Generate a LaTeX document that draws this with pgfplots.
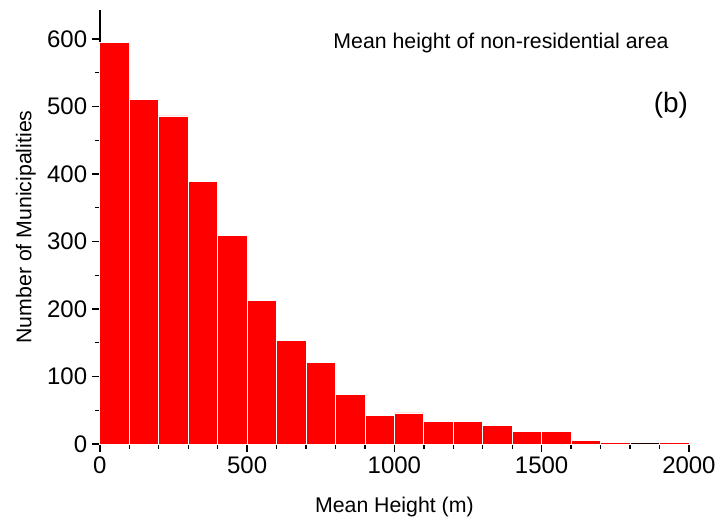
\documentclass[border=0pt]{standalone}
\usepackage{fontspec}
\setmainfont{Liberation Sans}
\usepackage{pgfplots}
\pgfplotsset{compat=1.18}
\begin{document}
\begin{tikzpicture}
\begin{axis}[
  scale only axis,
  width=442.5pt, height=326pt,
  xmin=0, xmax=2000, ymin=0, ymax=643,
  axis x line=bottom, axis y line=left,
  axis line style={-, line width=1.3pt},
  tick align=outside,
  xtick={0,500,1000,1500,2000},
  minor xtick={100,200,...,1900},
  ytick={0,100,...,600},
  minor ytick={50,150,...,550},
  major tick length=6pt, minor tick length=3.5pt,
  every tick/.style={black, line width=1pt},
  tick label style={font=\fontsize{18}{20}\selectfont},
  /pgf/number format/assume math mode=true,
  /pgf/number format/set thousands separator={},
  label style={font=\fontsize{16}{18}\selectfont},
  xlabel={Mean Height (m)},
  ylabel={Number of Municipalities},
  xlabel style={at={(axis description cs:0.5,-0.146)}, anchor=center},
  ylabel style={at={(axis description cs:-0.1254,0.5)}, anchor=center},
  clip=false,
]
\addplot[ybar interval, fill={rgb,255:red,255;green,0;blue,0}, draw=white, line width=0.6pt] coordinates {
(0,595) (100,511) (200,486) (300,389) (400,309) (500,212) (600,153) (700,121)
(800,73) (900,42) (1000,46) (1100,33) (1200,34) (1300,27) (1400,18) (1500,19)
(1600,5) (1700,2) (1800,0) (1900,2) (2000,2)
};
\node[font=\fontsize{16}{18}\selectfont] at (axis cs:1362,594) {Mean height of non-residential area};
\node[font=\fontsize{21}{24}\selectfont] at (axis cs:1939,502) {(b)};
\end{axis}
\path (current axis.origin) ++(-75pt,-61pt) rectangle ++(540pt,394.5pt);
\end{tikzpicture}
\end{document}
